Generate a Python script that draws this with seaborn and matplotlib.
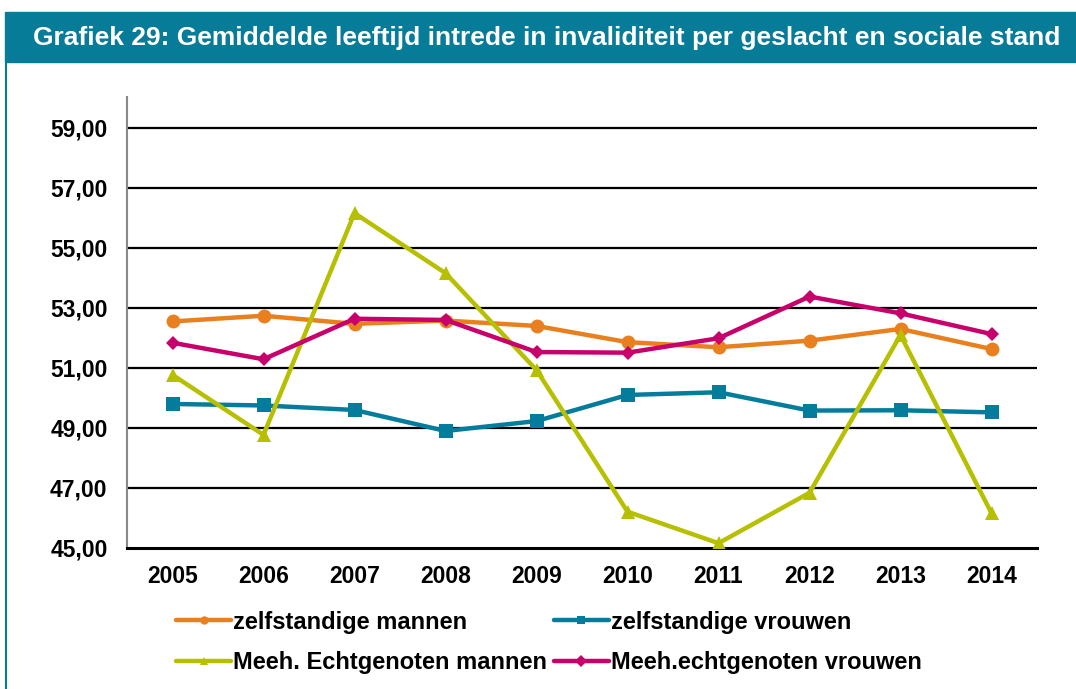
import numpy as np
import pandas as pd
import matplotlib
matplotlib.use("Agg")
import matplotlib.pyplot as plt
from matplotlib.lines import Line2D
import seaborn as sns

years = ["2005", "2006", "2007", "2008", "2009", "2010", "2011", "2012", "2013", "2014"]
zelf_mannen = [52.55, 52.74, 52.47, 52.58, 52.40, 51.86, 51.69, 51.91, 52.30, 51.63]
zelf_vrouwen = [49.80, 49.75, 49.60, 48.90, 49.23, 50.10, 50.19, 49.58, 49.59, 49.52]
meeh_mannen = [50.77, 48.77, 56.16, 54.16, 50.93, 46.21, 45.16, 46.84, 52.10, 46.16]
meeh_vrouwen = [51.84, 51.29, 52.64, 52.60, 51.53, 51.51, 51.99, 53.38, 52.82, 52.13]

series = ["zelfstandige mannen", "zelfstandige vrouwen",
          "Meeh. Echtgenoten mannen", "Meeh.echtgenoten vrouwen"]
colors = ["#E8801F", "#047C9B", "#B7C000", "#C8006B"]
markers = ["o", "s", "^", "D"]
msizes = [10, 9.5, 10, 7]

sns.set_style("white")
plt.rcParams["font.family"] = ["Liberation Sans", "DejaVu Sans"]
plt.rcParams["font.weight"] = "bold"
plt.rcParams["text.color"] = "black"

df = pd.DataFrame({
    "pos": list(range(len(years))) * 4,
    "value": zelf_mannen + zelf_vrouwen + meeh_mannen + meeh_vrouwen,
    "serie": [s for s in series for _ in years],
})

fig = plt.figure(figsize=(10.76, 6.89), dpi=100)

# header band and left frame line
fig.patches.append(plt.Rectangle((5 / 1076, 1 - 62 / 689), 1, 50 / 689,
                                 transform=fig.transFigure, color="#077C99", zorder=0))
fig.lines.append(plt.Line2D([6 / 1076, 6 / 1076], [0, 1 - 62 / 689],
                            transform=fig.transFigure, color="#077C99", lw=1.5))
fig.text(33 / 1076, 1 - 38 / 689, "Grafiek 29: Gemiddelde leeftijd intrede in invaliditeit per geslacht en sociale stand",
         color="white", fontsize=19, fontweight="bold", va="center", ha="left")

ax = fig.add_axes([127 / 1076, 1 - 548 / 689, 910 / 1076, 451 / 689])

for s, c, m, ms in zip(series, colors, markers, msizes):
    sns.lineplot(data=df[df["serie"] == s], x="pos", y="value", ax=ax, color=c,
                 marker=m, markersize=ms, markeredgewidth=0, linewidth=3.2,
                 legend=False, zorder=3)

ax.set_xlim(-0.5, 9.5)
ax.set_ylim(45, 60.03)
ax.set_yticks(np.arange(45, 60, 2))
ax.set_yticklabels([f"{v:.2f}".replace(".", ",") for v in np.arange(45, 60, 2)],
                   fontsize=16.5, fontweight="bold")
ax.set_xticks(range(len(years)))
ax.set_xticklabels(years, fontsize=16.5, fontweight="bold")
ax.set_xticks(np.arange(-0.5, 10, 1), minor=True)
ax.tick_params(axis="x", which="major", length=0, pad=12, labelcolor="black")
ax.tick_params(axis="x", which="minor", length=7, width=1.5, color="black", direction="out")
ax.tick_params(axis="y", length=5, width=1.5, color="#888888", direction="out", pad=9,
               labelcolor="black")
ax.set_xlabel("")
ax.set_ylabel("")

for v in np.arange(47, 60, 2):
    ax.axhline(v, color="black", lw=1.6, zorder=1)

for side in ["top", "right"]:
    ax.spines[side].set_visible(False)
ax.spines["left"].set_color("#888888")
ax.spines["left"].set_linewidth(1.5)
ax.spines["bottom"].set_color("black")
ax.spines["bottom"].set_linewidth(2.2)

# legend filled row by row like the original, with small markers
handles = [Line2D([], [], color=c, marker=m, markersize=6, markeredgewidth=0, linewidth=3.2)
           for c, m in zip(colors, markers)]
order = [0, 2, 1, 3]
ax.legend([handles[i] for i in order], [series[i] for i in order],
          loc="upper left", bbox_to_anchor=(0.044, -0.118), ncol=2, frameon=False,
          prop={"size": 17, "weight": "bold"}, handlelength=2.3, handletextpad=0.1,
          columnspacing=0.3, labelspacing=0.75, borderaxespad=0)

fig.savefig("out.png", dpi=100)
